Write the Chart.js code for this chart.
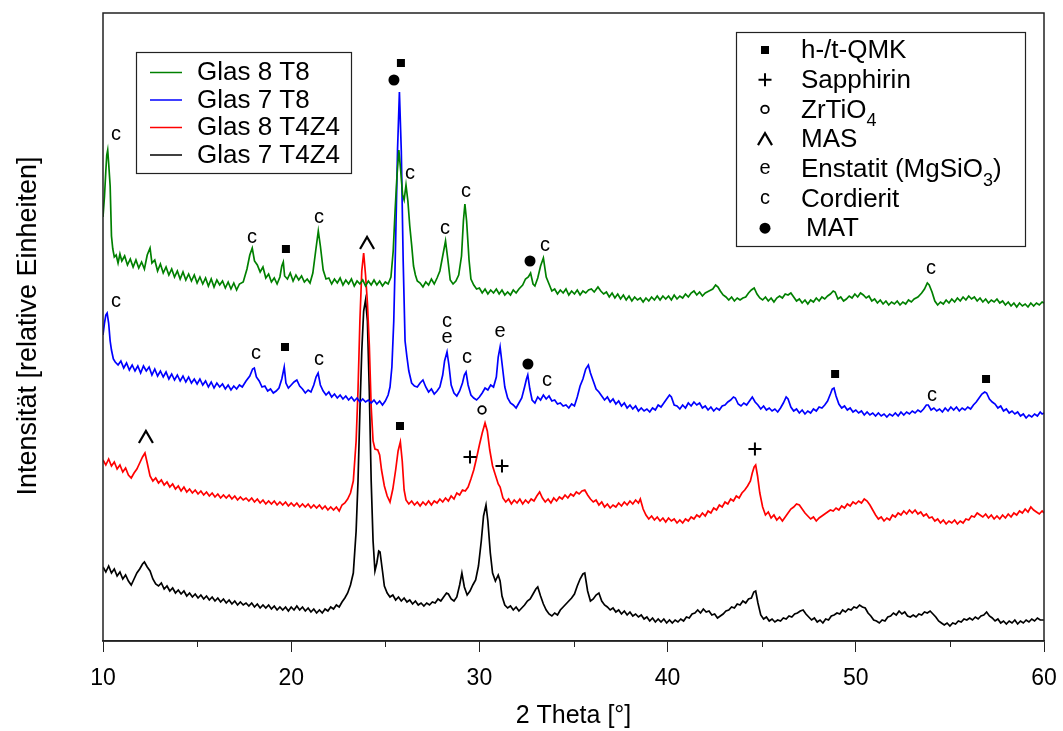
<!DOCTYPE html>
<html>
<head>
<meta charset="utf-8">
<script src="https://cdn.jsdelivr.net/npm/chart.js@4/dist/chart.umd.min.js"></script>
<style>
  html, body { margin: 0; padding: 0; background: #fff; }
  #wrap { width: 1063px; height: 731px; }
</style>
</head>
<body>
<div id="wrap"><canvas id="xrdChart" width="1063" height="731"></canvas></div>
<script>
// ============================================
// XRD Diffraktogramme — Glas 7 / Glas 8
// ============================================

// x: 2 Theta [°], y: Intensität (relative Einheiten, mit Versatz)
const glas8T8 = [
  [10.0,424],[10.08,445],[10.15,470],[10.2,486],[10.25,491],[10.3,478],[10.38,455],[10.45,405],[10.52,392],[10.6,384],
  [10.7,386],[10.8,378],[10.9,387],[11.0,380],[11.15,385],[11.3,376],[11.45,382],[11.6,374],[11.75,381],[11.9,373],
  [12.05,379],[12.2,372],[12.35,386],[12.5,393],[12.6,378],[12.75,381],[12.9,370],[13.05,377],[13.2,368],[13.35,374],
  [13.5,366],[13.65,372],[13.8,364],[13.95,370],[14.1,362],[14.25,369],[14.4,361],[14.55,367],[14.7,360],[14.85,366],
  [15.0,358],[15.15,364],[15.3,357],[15.45,363],[15.6,355],[15.75,362],[15.9,354],[16.05,361],[16.2,356],[16.35,360],
  [16.5,353],[16.65,359],[16.8,352],[16.95,358],[17.1,351],[17.25,357],[17.45,359],[17.65,372],[17.8,386],[17.93,393],
  [18.05,380],[18.2,376],[18.35,369],[18.5,374],[18.65,363],[18.8,367],[18.95,359],[19.1,363],[19.25,357],[19.4,364],
  [19.5,375],[19.58,379],[19.65,365],[19.8,362],[19.95,368],[20.1,360],[20.25,366],[20.4,361],[20.55,365],[20.7,359],
  [20.85,362],[21.0,358],[21.15,368],[21.3,390],[21.44,410],[21.55,395],[21.7,371],[21.85,362],[22.0,363],[22.15,357],
  [22.3,362],[22.45,358],[22.6,363],[22.75,356],[22.9,361],[23.05,357],[23.2,362],[23.35,355],[23.5,360],[23.65,357],
  [23.8,361],[23.95,355],[24.1,360],[24.25,356],[24.4,361],[24.55,356],[24.7,360],[24.85,355],[25.0,359],[25.15,357],
  [25.3,364],[25.42,390],[25.52,430],[25.62,465],[25.72,491],[25.82,470],[25.92,446],[26.0,441],[26.1,456],[26.2,440],
  [26.3,415],[26.4,396],[26.5,375],[26.6,366],[26.7,360],[26.85,358],[27.0,354],[27.15,359],[27.3,356],[27.45,362],
  [27.6,357],[27.75,363],[27.9,370],[28.05,385],[28.2,400],[28.32,382],[28.45,361],[28.6,357],[28.75,360],[28.9,366],
  [29.05,385],[29.15,420],[29.23,437],[29.32,420],[29.45,381],[29.55,362],[29.7,356],[29.85,352],[30.0,353],[30.15,348],
  [30.3,352],[30.45,347],[30.6,351],[30.75,348],[30.9,352],[31.05,347],[31.2,351],[31.35,346],[31.5,349],[31.65,346],
  [31.8,351],[31.95,348],[32.1,352],[32.3,356],[32.45,362],[32.6,364],[32.72,368],[32.85,357],[32.95,355],[33.1,363],
  [33.25,375],[33.4,383],[33.55,364],[33.7,357],[33.85,350],[34.0,352],[34.15,347],[34.3,351],[34.45,348],[34.6,352],
  [34.75,346],[34.9,350],[35.05,347],[35.2,351],[35.35,346],[35.5,350],[35.65,348],[35.8,351],[35.95,352],[36.1,349],
  [36.3,354],[36.45,350],[36.6,347],[36.75,349],[36.9,344],[37.05,348],[37.2,343],[37.35,347],[37.5,342],[37.65,346],
  [37.8,341],[37.95,345],[38.1,340],[38.25,344],[38.4,341],[38.55,343],[38.7,339],[38.85,343],[39.0,340],[39.15,344],
  [39.3,341],[39.45,345],[39.6,341],[39.75,345],[39.9,342],[40.05,345],[40.2,341],[40.35,346],[40.5,342],[40.65,345],
  [40.8,343],[40.95,347],[41.1,344],[41.25,348],[41.4,350],[41.55,346],[41.7,349],[41.85,345],[42.0,348],[42.2,350],
  [42.4,352],[42.55,356],[42.68,354],[42.8,350],[42.95,346],[43.1,344],[43.25,341],[43.4,344],[43.55,340],[43.7,343],
  [43.85,341],[44.0,343],[44.15,344],[44.3,348],[44.45,351],[44.6,353],[44.75,347],[44.9,343],[45.05,341],[45.2,344],
  [45.35,340],[45.5,343],[45.65,339],[45.8,343],[45.95,345],[46.1,343],[46.25,347],[46.4,346],[46.55,348],[46.7,344],
  [46.85,340],[47.0,342],[47.15,338],[47.3,341],[47.45,337],[47.6,341],[47.75,339],[47.9,343],[48.05,340],[48.2,344],
  [48.35,342],[48.5,345],[48.65,347],[48.8,350],[48.9,349],[49.05,342],[49.2,344],[49.35,340],[49.5,342],[49.65,345],
  [49.8,343],[49.95,347],[50.1,344],[50.25,348],[50.4,346],[50.55,343],[50.7,345],[50.85,340],[51.0,342],[51.15,338],
  [51.3,341],[51.45,337],[51.6,340],[51.75,336],[51.9,339],[52.05,337],[52.2,340],[52.35,336],[52.5,339],[52.65,337],
  [52.8,341],[52.95,339],[53.1,342],[53.3,344],[53.5,348],[53.65,352],[53.8,358],[53.9,356],[54.05,349],[54.2,340],
  [54.35,336],[54.5,339],[54.65,337],[54.8,341],[54.95,338],[55.1,342],[55.25,339],[55.4,343],[55.55,340],[55.7,344],
  [55.85,341],[56.0,345],[56.15,342],[56.3,344],[56.45,340],[56.6,343],[56.75,339],[56.9,342],[57.05,338],[57.2,341],
  [57.35,339],[57.5,342],[57.65,338],[57.8,340],[57.95,336],[58.1,339],[58.25,335],[58.4,338],[58.55,334],[58.7,338],
  [58.85,335],[59.0,337],[59.15,334],[59.3,338],[59.45,335],[59.6,338],[59.75,336],[59.9,339],[60.0,338]
];

const glas7T8 = [
  [10.0,306],[10.08,318],[10.15,326],[10.22,328],[10.3,318],[10.38,300],[10.45,291],[10.55,282],[10.65,279],[10.8,276],
  [10.95,280],[11.1,273],[11.25,278],[11.4,271],[11.55,276],[11.7,270],[11.85,275],[12.0,268],[12.15,275],[12.3,270],
  [12.45,274],[12.6,266],[12.75,272],[12.9,265],[13.05,270],[13.2,264],[13.35,269],[13.5,262],[13.65,267],[13.8,261],
  [13.95,266],[14.1,260],[14.25,265],[14.4,259],[14.55,264],[14.7,258],[14.85,262],[15.0,257],[15.15,262],[15.3,256],
  [15.45,260],[15.6,254],[15.75,259],[15.9,253],[16.05,258],[16.2,254],[16.35,257],[16.5,252],[16.65,256],[16.8,251],
  [16.95,255],[17.1,252],[17.25,256],[17.4,254],[17.6,260],[17.8,265],[17.95,272],[18.04,273],[18.15,264],[18.3,260],
  [18.45,254],[18.6,255],[18.75,250],[18.9,252],[19.05,248],[19.2,250],[19.35,253],[19.5,262],[19.63,274],[19.72,258],
  [19.85,253],[20.0,256],[20.15,259],[20.3,261],[20.45,255],[20.6,252],[20.75,248],[20.9,251],[21.05,249],[21.2,256],
  [21.32,264],[21.43,268],[21.55,256],[21.7,250],[21.85,246],[22.0,249],[22.15,244],[22.3,247],[22.45,243],[22.6,246],
  [22.75,242],[22.9,245],[23.05,241],[23.2,244],[23.35,240],[23.5,243],[23.65,239],[23.8,242],[23.95,239],[24.1,241],
  [24.25,238],[24.4,241],[24.55,237],[24.7,240],[24.85,236],[25.0,240],[25.15,246],[25.25,254],[25.35,274],[25.45,320],
  [25.55,400],[25.65,491],[25.75,549],[25.85,490],[25.95,380],[26.05,300],[26.15,284],[26.25,270],[26.4,258],[26.55,255],
  [26.7,254],[26.85,258],[27.0,261],[27.15,254],[27.3,249],[27.45,252],[27.6,247],[27.75,250],[27.9,254],[28.05,266],
  [28.15,280],[28.28,289],[28.38,276],[28.5,256],[28.65,248],[28.8,245],[28.95,250],[29.1,258],[29.2,266],[29.29,269],
  [29.4,256],[29.55,246],[29.7,243],[29.85,241],[30.0,244],[30.15,248],[30.3,253],[30.45,251],[30.6,256],[30.75,254],
  [30.9,264],[31.0,284],[31.1,294],[31.2,278],[31.35,254],[31.5,243],[31.65,238],[31.8,236],[31.95,233],[32.1,238],
  [32.25,243],[32.4,254],[32.5,262],[32.57,266],[32.68,252],[32.8,241],[32.95,238],[33.1,244],[33.25,241],[33.4,246],
  [33.55,242],[33.7,245],[33.85,240],[34.0,241],[34.15,237],[34.3,238],[34.45,235],[34.6,236],[34.75,233],[34.9,237],
  [35.05,235],[35.2,244],[35.35,255],[35.5,262],[35.65,272],[35.79,276],[35.9,268],[36.05,260],[36.2,252],[36.35,249],
  [36.5,245],[36.65,241],[36.8,244],[36.95,239],[37.1,242],[37.25,237],[37.4,240],[37.55,235],[37.7,238],[37.85,233],
  [38.0,236],[38.15,232],[38.3,235],[38.45,230],[38.6,233],[38.75,230],[38.9,232],[39.05,229],[39.2,233],[39.35,231],
  [39.5,236],[39.65,234],[39.8,238],[39.95,242],[40.1,246],[40.2,244],[40.35,236],[40.5,235],[40.65,232],[40.8,236],
  [40.95,233],[41.1,238],[41.25,235],[41.4,239],[41.55,236],[41.7,238],[41.85,233],[42.0,235],[42.15,231],[42.3,234],
  [42.45,230],[42.6,233],[42.75,231],[42.9,235],[43.05,236],[43.2,239],[43.35,241],[43.5,244],[43.6,243],[43.75,237],
  [43.9,235],[44.05,238],[44.2,236],[44.35,240],[44.5,244],[44.65,239],[44.8,236],[44.95,232],[45.1,235],[45.25,231],
  [45.4,233],[45.55,230],[45.7,232],[45.85,229],[46.0,233],[46.15,238],[46.3,244],[46.4,242],[46.55,234],[46.7,230],
  [46.85,232],[47.0,228],[47.15,231],[47.3,227],[47.45,230],[47.6,228],[47.75,232],[47.9,230],[48.05,234],[48.2,233],
  [48.35,236],[48.5,240],[48.65,247],[48.75,252],[48.84,253],[48.95,245],[49.1,237],[49.25,233],[49.4,235],[49.55,231],
  [49.7,233],[49.85,229],[50.0,231],[50.15,228],[50.3,230],[50.45,226],[50.6,229],[50.75,226],[50.9,228],[51.05,225],
  [51.2,228],[51.35,225],[51.5,227],[51.65,224],[51.8,227],[51.95,225],[52.1,228],[52.25,225],[52.4,229],[52.55,226],
  [52.7,229],[52.85,227],[53.0,230],[53.15,228],[53.3,231],[53.45,229],[53.6,232],[53.75,236],[53.85,236],[54.0,231],
  [54.15,233],[54.3,230],[54.45,232],[54.6,229],[54.75,233],[54.9,230],[55.05,234],[55.2,231],[55.35,234],[55.5,230],
  [55.65,233],[55.8,231],[55.95,234],[56.1,232],[56.25,236],[56.4,239],[56.55,243],[56.7,247],[56.85,249],[56.95,248],
  [57.1,242],[57.25,239],[57.4,237],[57.55,233],[57.7,235],[57.85,230],[58.0,232],[58.15,228],[58.3,230],[58.45,227],
  [58.6,229],[58.75,225],[58.9,227],[59.05,223],[59.2,226],[59.35,224],[59.5,227],[59.65,225],[59.8,229],[59.9,227],
  [60.0,228]
];

const glas8T4Z4 = [
  [10.0,181],[10.15,176],[10.3,182],[10.45,175],[10.6,179],[10.75,172],[10.9,176],[11.05,169],[11.2,173],[11.35,166],
  [11.5,163],[11.65,168],[11.8,172],[11.95,178],[12.1,184],[12.23,188],[12.35,178],[12.5,165],[12.65,160],[12.8,163],
  [12.95,158],[13.1,161],[13.25,156],[13.4,159],[13.55,154],[13.7,157],[13.85,152],[14.0,155],[14.15,150],[14.3,154],
  [14.45,149],[14.6,152],[14.75,148],[14.9,151],[15.05,147],[15.2,150],[15.35,146],[15.5,149],[15.65,145],[15.8,148],
  [15.95,144],[16.1,147],[16.25,143],[16.4,146],[16.55,143],[16.7,146],[16.85,142],[17.0,145],[17.15,141],[17.3,144],
  [17.45,141],[17.6,143],[17.75,140],[17.9,143],[18.05,139],[18.2,142],[18.35,138],[18.5,141],[18.65,137],[18.8,140],
  [18.95,137],[19.1,140],[19.25,136],[19.4,139],[19.55,136],[19.7,139],[19.85,135],[20.0,138],[20.15,135],[20.3,138],
  [20.45,134],[20.6,137],[20.75,134],[20.9,137],[21.05,133],[21.2,136],[21.35,133],[21.5,136],[21.65,132],[21.8,135],
  [21.95,131],[22.1,134],[22.25,131],[22.4,134],[22.55,130],[22.7,136],[22.85,138],[23.0,142],[23.15,148],[23.3,160],
  [23.45,200],[23.55,251],[23.65,320],[23.75,370],[23.85,388],[23.95,366],[24.05,338],[24.15,296],[24.25,234],[24.35,200],
  [24.45,192],[24.6,191],[24.7,186],[24.8,171],[24.95,155],[25.1,145],[25.25,139],[25.4,152],[25.55,171],[25.68,190],
  [25.8,199],[25.9,180],[26.0,151],[26.1,141],[26.25,137],[26.4,140],[26.55,136],[26.7,139],[26.85,135],[27.0,139],
  [27.15,136],[27.3,140],[27.45,136],[27.6,140],[27.75,138],[27.9,142],[28.05,139],[28.2,143],[28.35,140],[28.5,145],
  [28.65,142],[28.8,148],[28.95,146],[29.1,151],[29.25,150],[29.4,154],[29.55,162],[29.7,171],[29.85,183],[30.0,196],
  [30.15,208],[30.3,218],[30.42,210],[30.55,191],[30.7,175],[30.85,166],[31.0,157],[31.1,154],[31.25,143],[31.4,139],
  [31.55,142],[31.7,137],[31.85,141],[32.0,138],[32.15,142],[32.3,137],[32.45,141],[32.6,138],[32.75,142],[32.9,140],
  [33.05,145],[33.2,149],[33.35,143],[33.5,139],[33.65,142],[33.8,138],[33.95,143],[34.1,140],[34.25,144],[34.4,142],
  [34.55,146],[34.7,143],[34.85,147],[35.0,145],[35.15,149],[35.3,147],[35.45,150],[35.6,151],[35.75,146],[35.9,142],
  [36.05,139],[36.2,141],[36.35,136],[36.5,139],[36.65,134],[36.8,137],[36.95,133],[37.1,136],[37.25,134],[37.4,138],
  [37.55,135],[37.7,139],[37.85,136],[38.0,140],[38.15,137],[38.3,141],[38.45,138],[38.55,142],[38.7,132],[38.85,126],
  [39.0,122],[39.15,125],[39.3,121],[39.45,124],[39.6,120],[39.75,123],[39.9,119],[40.05,123],[40.2,120],[40.35,122],
  [40.5,118],[40.65,121],[40.8,118],[40.95,122],[41.1,120],[41.25,124],[41.4,122],[41.55,126],[41.7,124],[41.85,128],
  [42.0,125],[42.15,130],[42.3,128],[42.45,133],[42.6,131],[42.75,136],[42.9,134],[43.05,139],[43.2,137],[43.35,142],
  [43.5,140],[43.65,145],[43.8,143],[43.95,148],[44.1,151],[44.25,155],[44.4,160],[44.5,168],[44.6,174],[44.68,176],
  [44.78,165],[44.9,148],[45.05,134],[45.2,126],[45.35,129],[45.5,123],[45.65,126],[45.8,121],[45.95,124],[46.1,120],
  [46.25,124],[46.4,128],[46.55,132],[46.7,134],[46.85,137],[47.0,136],[47.15,132],[47.3,128],[47.45,125],[47.6,122],
  [47.75,124],[47.9,120],[48.05,123],[48.2,125],[48.35,127],[48.5,129],[48.65,131],[48.8,130],[48.95,133],[49.1,131],
  [49.25,135],[49.4,133],[49.55,137],[49.7,135],[49.85,139],[50.0,137],[50.15,140],[50.3,138],[50.45,142],[50.6,140],
  [50.75,136],[50.9,131],[51.05,126],[51.2,122],[51.35,124],[51.5,120],[51.65,123],[51.8,121],[51.95,126],[52.1,124],
  [52.25,128],[52.4,126],[52.55,130],[52.7,127],[52.85,131],[53.0,128],[53.15,131],[53.3,127],[53.45,129],[53.6,125],
  [53.75,127],[53.9,123],[54.05,124],[54.2,120],[54.35,122],[54.5,118],[54.65,121],[54.8,117],[54.95,120],[55.1,118],
  [55.25,121],[55.4,117],[55.55,120],[55.7,118],[55.85,122],[56.0,121],[56.15,125],[56.3,124],[56.45,128],[56.6,126],
  [56.75,124],[56.9,127],[57.05,123],[57.2,126],[57.35,122],[57.5,125],[57.65,122],[57.8,126],[57.95,123],[58.1,127],
  [58.25,124],[58.4,128],[58.55,126],[58.7,130],[58.85,128],[59.0,132],[59.15,129],[59.3,134],[59.45,131],[59.6,129],
  [59.75,127],[59.9,130],[60.0,128]
];

const glas7T4Z4 = [
  [10.0,74],[10.15,69],[10.3,75],[10.45,68],[10.6,72],[10.75,65],[10.9,69],[11.05,62],[11.2,66],[11.35,60],
  [11.5,56],[11.65,62],[11.8,68],[11.95,72],[12.1,77],[12.2,79],[12.35,74],[12.5,70],[12.65,62],[12.8,57],
  [12.95,55],[13.1,58],[13.25,52],[13.4,55],[13.55,50],[13.7,53],[13.85,48],[14.0,51],[14.15,47],[14.3,50],
  [14.45,45],[14.6,48],[14.75,44],[14.9,47],[15.05,43],[15.2,46],[15.35,42],[15.5,45],[15.65,41],[15.8,44],
  [15.95,40],[16.1,43],[16.25,39],[16.4,42],[16.55,38],[16.7,41],[16.85,37],[17.0,40],[17.15,36],[17.3,39],
  [17.45,36],[17.6,38],[17.75,35],[17.9,38],[18.05,34],[18.2,37],[18.35,33],[18.5,36],[18.65,33],[18.8,36],
  [18.95,32],[19.1,35],[19.25,31],[19.4,34],[19.55,31],[19.7,34],[19.85,30],[20.0,34],[20.15,31],[20.3,35],
  [20.45,31],[20.6,34],[20.75,30],[20.9,33],[21.05,29],[21.2,32],[21.35,28],[21.5,31],[21.65,28],[21.8,32],
  [21.95,30],[22.1,34],[22.25,32],[22.4,36],[22.55,34],[22.7,39],[22.85,43],[23.0,48],[23.15,56],[23.3,68],
  [23.45,110],[23.55,160],[23.65,230],[23.75,290],[23.85,330],[23.95,341],[24.05,320],[24.15,250],[24.25,160],[24.35,100],
  [24.45,70],[24.55,78],[24.65,90],[24.72,89],[24.85,70],[24.95,55],[25.1,48],[25.25,44],[25.4,46],[25.55,41],
  [25.7,44],[25.85,40],[26.0,43],[26.15,39],[26.3,41],[26.45,37],[26.6,40],[26.75,36],[26.9,38],[27.05,35],
  [27.2,38],[27.35,36],[27.5,39],[27.65,38],[27.8,42],[27.95,40],[28.1,44],[28.25,48],[28.35,47],[28.5,42],
  [28.65,40],[28.8,44],[28.95,56],[29.07,68],[29.2,54],[29.35,46],[29.5,50],[29.65,56],[29.8,61],[29.95,75],
  [30.1,100],[30.22,125],[30.35,136],[30.45,120],[30.58,88],[30.7,68],[30.85,60],[31.0,66],[31.1,60],[31.2,45],
  [31.35,36],[31.5,33],[31.65,35],[31.8,31],[31.95,34],[32.1,30],[32.25,33],[32.4,36],[32.55,40],[32.7,42],
  [32.85,47],[33.0,52],[33.1,54],[33.25,45],[33.4,37],[33.55,31],[33.7,27],[33.85,25],[34.0,28],[34.15,26],
  [34.3,31],[34.45,34],[34.6,37],[34.75,40],[34.9,43],[35.05,47],[35.2,55],[35.35,62],[35.5,67],[35.6,68],
  [35.75,50],[35.9,40],[36.05,42],[36.2,46],[36.35,48],[36.5,40],[36.65,36],[36.8,34],[36.95,31],[37.1,33],
  [37.25,29],[37.4,31],[37.55,27],[37.7,30],[37.85,26],[38.0,29],[38.15,25],[38.3,27],[38.45,24],[38.6,26],
  [38.75,22],[38.9,24],[39.05,20],[39.2,23],[39.35,19],[39.5,22],[39.65,19],[39.8,22],[39.95,18],[40.1,21],
  [40.25,18],[40.4,21],[40.55,19],[40.7,22],[40.85,20],[41.0,24],[41.15,23],[41.3,27],[41.45,28],[41.6,31],
  [41.75,28],[41.9,32],[42.05,29],[42.2,30],[42.35,26],[42.5,27],[42.65,23],[42.8,25],[42.95,27],[43.1,30],
  [43.25,31],[43.4,34],[43.55,33],[43.7,37],[43.85,36],[44.0,40],[44.15,38],[44.3,42],[44.45,43],[44.58,49],
  [44.68,50],[44.8,38],[44.95,26],[45.1,22],[45.25,24],[45.4,20],[45.55,22],[45.7,19],[45.85,21],[46.0,20],
  [46.15,23],[46.3,22],[46.45,25],[46.6,24],[46.75,27],[46.9,28],[47.05,30],[47.2,31],[47.35,27],[47.5,24],
  [47.65,21],[47.8,23],[47.95,19],[48.1,21],[48.25,18],[48.4,22],[48.55,21],[48.7,25],[48.85,26],[49.0,28],
  [49.15,27],[49.3,31],[49.45,29],[49.6,32],[49.75,31],[49.9,34],[50.05,33],[50.2,36],[50.35,34],[50.5,33],
  [50.65,28],[50.8,25],[50.95,21],[51.1,20],[51.25,18],[51.4,21],[51.55,20],[51.7,24],[51.85,25],[52.0,28],
  [52.15,26],[52.3,30],[52.45,27],[52.6,29],[52.75,25],[52.9,24],[53.05,26],[53.2,24],[53.35,27],[53.5,26],
  [53.65,29],[53.8,28],[53.95,30],[54.1,27],[54.25,24],[54.4,20],[54.55,18],[54.7,16],[54.85,18],[55.0,15],
  [55.15,18],[55.3,17],[55.45,20],[55.6,19],[55.75,22],[55.9,21],[56.05,23],[56.2,21],[56.35,24],[56.5,22],
  [56.65,25],[56.8,26],[56.95,29],[57.1,25],[57.25,23],[57.4,20],[57.55,22],[57.7,18],[57.85,20],[58.0,17],
  [58.15,20],[58.3,18],[58.45,21],[58.6,17],[58.75,20],[58.9,18],[59.05,21],[59.2,19],[59.35,22],[59.5,20],
  [59.65,23],[59.8,21],[60.0,21]
];

const seriesNames = ['Glas 8 T8', 'Glas 7 T8', 'Glas 8 T4Z4', 'Glas 7 T4Z4'];
const seriesColors = ['#008000', '#0000ff', '#ff0000', '#000000'];

const xTickValues = [10, 20, 30, 40, 50, 60];
const xMinorTicks = [15, 25, 35, 45, 55];

// Reflex-Zuordnung: [2 Theta, Intensität, Symbol]
const marks8T8 = [
  [10.69,507,'c'],[17.92,404,'c'],[19.72,392,'sq'],[21.48,424,'c'],[24.03,398,'^'],
  [25.46,561,'dot'],[25.83,578,'sq'],[26.31,468,'c'],[28.17,413,'c'],[29.29,450,'c'],
  [32.69,380,'dot'],[33.49,396,'c'],[54.0,373,'c']
];
const marks7T8 = [
  [10.69,340,'c'],[18.13,288,'c'],[19.67,294,'sq'],[21.48,282,'c'],[28.28,320,'c'],
  [28.28,304,'e'],[29.34,284,'c'],[31.1,310,'e'],[32.58,277,'dot'],[33.59,261,'c'],
  [48.9,267,'sq'],[54.05,246,'c'],[56.92,262,'sq']
];
const marks8T4Z4 = [
  [12.28,204,'^'],[25.78,215,'sq'],[30.14,231,'o'],[29.5,184,'+'],[31.2,175,'+'],[44.64,192,'+']
];

const phaseSymbols = ['sq', '+', 'o', '^', 'e', 'c', 'dot'];
const phaseNames = ['h-/t-QMK', 'Sapphirin', 'ZrTiO|4', 'MAS', 'Enstatit (MgSiO|3|)', 'Cordierit', 'MAT'];

const FONT = '"Liberation Sans", Arial, sans-serif';

function drawSymbol(ctx, sym, x, y) {
    ctx.save();
    ctx.fillStyle = '#000';
    ctx.strokeStyle = '#000';
    if (sym === 'sq') {
        ctx.fillRect(x - 4, y - 4, 8, 8);
    } else if (sym === 'dot') {
        ctx.beginPath();
        ctx.arc(x, y, 5.5, 0, Math.PI * 2);
        ctx.fill();
    } else if (sym === 'o') {
        ctx.lineWidth = 1.8;
        ctx.beginPath();
        ctx.arc(x, y, 3.8, 0, Math.PI * 2);
        ctx.stroke();
    } else if (sym === '+') {
        ctx.lineWidth = 2;
        ctx.beginPath();
        ctx.moveTo(x - 6.5, y); ctx.lineTo(x + 6.5, y);
        ctx.moveTo(x, y - 6.5); ctx.lineTo(x, y + 6.5);
        ctx.stroke();
    } else if (sym === '^') {
        ctx.lineWidth = 2.2;
        ctx.beginPath();
        ctx.moveTo(x - 7, y + 6);
        ctx.lineTo(x, y - 6);
        ctx.lineTo(x + 7, y + 6);
        ctx.stroke();
    } else {
        ctx.font = '20px ' + FONT;
        ctx.textAlign = 'center';
        ctx.textBaseline = 'middle';
        ctx.fillText(sym, x, y);
    }
    ctx.restore();
}

// text with subscripts, parts split by '|' (odd parts are subscripts)
function drawRichText(ctx, text, x, y, size) {
    const parts = text.split('|');
    let cx = x;
    parts.forEach((p, i) => {
        if (!p) return;
        if (i % 2 === 1) {
            ctx.font = Math.round(size * 0.7) + 'px ' + FONT;
            ctx.fillText(p, cx, y + size * 0.42);
        } else {
            ctx.font = size + 'px ' + FONT;
            ctx.fillText(p, cx, y);
        }
        cx += ctx.measureText(p).width;
    });
}

const decorations = {
    id: 'decorations',
    afterDatasetsDraw(chart) {
        const { ctx, chartArea: a, scales: { x, y } } = chart;
        ctx.save();

        // frame
        ctx.strokeStyle = '#222';
        ctx.lineWidth = 1.5;
        ctx.strokeRect(a.left, a.top, a.right - a.left, a.bottom - a.top);

        // minor ticks
        ctx.lineWidth = 1;
        ctx.beginPath();
        xMinorTicks.forEach(v => {
            const px = Math.round(x.getPixelForValue(v)) + 0.5;
            ctx.moveTo(px, a.bottom);
            ctx.lineTo(px, a.bottom + 6);
        });
        ctx.stroke();

        // y title
        ctx.fillStyle = '#000';
        ctx.font = '27px ' + FONT;
        ctx.textAlign = 'center';
        ctx.textBaseline = 'middle';
        ctx.translate(29, 326);
        ctx.rotate(-Math.PI / 2);
        ctx.fillText('Intensität [relative Einheiten]', 0, 0);
        ctx.setTransform(1, 0, 0, 1, 0, 0);

        // peak assignments
        [marks8T8, marks7T8, marks8T4Z4].forEach(list => {
            list.forEach(m => drawSymbol(ctx, m[2], x.getPixelForValue(m[0]), y.getPixelForValue(m[1])));
        });

        // legend: samples
        ctx.fillStyle = '#fff';
        ctx.fillRect(136, 52, 215, 121);
        ctx.strokeStyle = '#222';
        ctx.lineWidth = 1.2;
        ctx.strokeRect(136.5, 52.5, 215, 121);
        ctx.textAlign = 'left';
        ctx.textBaseline = 'middle';
        seriesNames.forEach((name, i) => {
            const ry = 72 + i * 27.5;
            ctx.strokeStyle = seriesColors[i];
            ctx.lineWidth = 1.5;
            ctx.beginPath();
            ctx.moveTo(150, ry + 0.5);
            ctx.lineTo(182, ry + 0.5);
            ctx.stroke();
            ctx.fillStyle = '#000';
            ctx.font = '26px ' + FONT;
            ctx.fillText(name, 197, ry + 1);
        });

        // legend: phases
        ctx.fillStyle = '#fff';
        ctx.fillRect(736, 32, 289, 214);
        ctx.strokeStyle = '#222';
        ctx.lineWidth = 1.2;
        ctx.strokeRect(736.5, 32.5, 289, 214);
        phaseNames.forEach((name, i) => {
            const ry = 50 + i * 29.7;
            drawSymbol(ctx, phaseSymbols[i], 765, ry);
            ctx.fillStyle = '#000';
            ctx.textAlign = 'left';
            ctx.textBaseline = 'middle';
            drawRichText(ctx, name, i === 6 ? 806 : 801, ry + 1, 26);
        });

        ctx.restore();
    }
};

const datasets = [glas8T8, glas7T8, glas8T4Z4, glas7T4Z4].map((d, i) => ({
    label: seriesNames[i],
    data: d,
    borderColor: seriesColors[i],
    borderWidth: 1.7,
    pointRadius: 0,
    tension: 0,
    fill: false,
    order: i
}));

new Chart(document.getElementById('xrdChart').getContext('2d'), {
    type: 'line',
    data: { datasets },
    options: {
        responsive: false,
        animation: false,
        events: [],
        layout: { padding: { left: 103, top: 13, right: 19, bottom: 0 } },
        plugins: { legend: { display: false }, tooltip: { enabled: false } },
        scales: {
            x: {
                type: 'linear',
                min: 10,
                max: 60,
                afterBuildTicks: (scale) => { scale.ticks = xTickValues.map(v => ({ value: v })); },
                afterFit: (scale) => {
                    scale.height = 90;
                    scale.paddingLeft = 0;
                    scale.paddingRight = 0;
                },
                ticks: {
                    color: '#000',
                    padding: 13,
                    maxRotation: 0,
                    font: { family: FONT, size: 23 }
                },
                grid: { drawOnChartArea: false, drawTicks: true, tickLength: 11, color: '#222', lineWidth: 1 },
                border: { display: true, color: '#222', width: 1.5 },
                title: {
                    display: true,
                    text: '2 Theta [°]',
                    color: '#000',
                    padding: 0,
                    font: { family: FONT, size: 25 }
                }
            },
            y: {
                display: false,
                min: 0,
                max: 628
            }
        }
    },
    plugins: [decorations]
});
</script>
</body>
</html>
